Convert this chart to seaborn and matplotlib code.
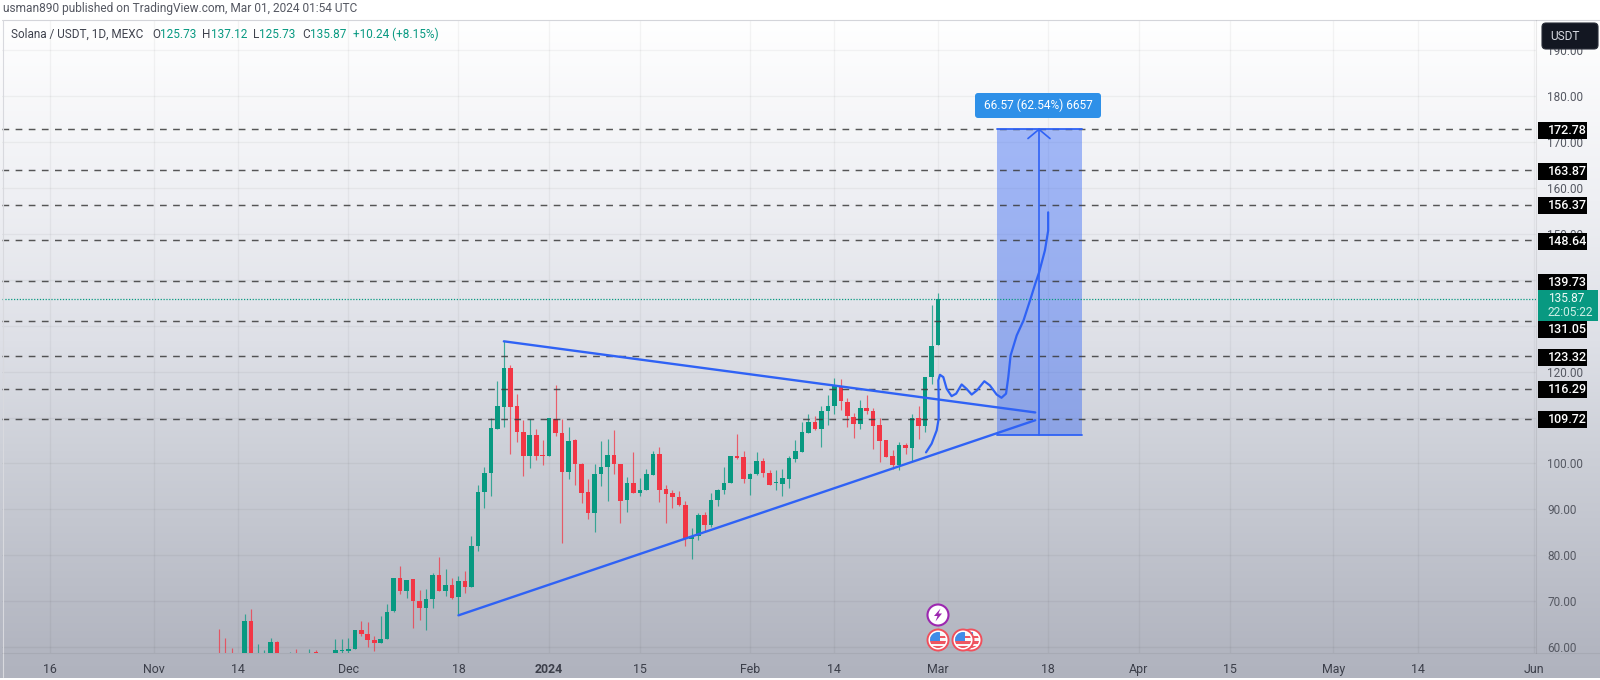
import numpy as np
import pandas as pd
import matplotlib
matplotlib.use("Agg")
import matplotlib.pyplot as plt
import matplotlib.dates as mdates
from matplotlib.patches import Circle, Rectangle, FancyBboxPatch, Polygon
import seaborn as sns

# ---------- data ----------
first_day = "2023-11-11"
opens = [58,57,57,57,57,65.6,56,56,57,61.1,57,57,58,57,58,58.9,57.8,57,58.2,59.2,
 59.1,59.6,63.6,62.9,61.6,60.9,61.8,67.8,75.0,72.2,74.8,70.1,68.5,70.5,75.6,72.3,73.6,70.8,74.4,73.0,82.1,93.7,97.9,107.6,112.2,120.8,112.6,106.8,101.6,106.1,101.9,
 101.6,109.7,106.6,98.2,105.0,99.9,93.7,89.3,97.6,99.3,101.9,99.9,92.1,95.8,93.6,94.1,97.4,102.1,94.4,93.5,92.6,91.0,83.6,84.1,88.7,86.6,92.1,94.1,95.8,101.7,101.3,
 96.7,97.7,100.6,98.0,95.7,95.5,96.7,100.9,102.5,106.7,109.0,107.4,111.5,112.4,116.9,113.4,110.2,108.6,112.1,111.5,108.3,105.0,101.6,99.7,104.05,103.25,109.8,108.1,118.8,
 125.73]
highs = [64.0,61.9,59.8,57.8,67.1,68.3,60.6,59.3,62.0,61.3,58,59.0,59.6,58.6,59.6,59.4,58.2,58.4,61.8,61.7,
 61.95,63.7,65.6,65.4,62.5,66.7,69.4,75.1,77.7,74.7,74.9,72.5,72.7,76.2,79.5,77.0,75.1,75.4,76.5,84.1,95.4,99.3,109.9,117.9,126.6,121.4,115.2,109.5,109.7,107.6,105.0,
 109.8,117.0,109.7,108.0,105.3,100.0,96.6,99.9,104.8,105.3,107.3,99.9,97.0,102.4,96.8,98.7,102.8,103.5,95.4,94.2,93.9,91.8,85.9,89.2,89.5,93.6,94.5,99.3,101.7,106.3,102.6,
 97.9,102.45,101.2,98.6,98.6,98.7,101.7,105.0,109.0,110.8,110.4,112.4,115.0,118.6,118.3,114.3,110.9,113.9,114.8,112.1,110.0,105.0,103.0,104.7,104.4,110.8,112.4,118.8,134.6,
 137.12]
lows = [55,55,55,55.5,56,55,55,55,56,55,56,56,56,56,57,57,56,56.5,57,58.2,
 58.7,59.5,62.3,60.0,59.1,60.9,61.8,67.7,71.6,70.7,64.2,65.8,63.8,68.5,72.2,71.2,70.4,66.9,71.8,73.0,81.0,90.3,92.9,107.6,107.9,102.1,104.7,97.2,99.1,100.8,99.6,
 101.6,105.9,82.6,96.6,95.3,91.4,87.8,85.0,95.0,91.8,97.6,87.0,89.5,93.6,93.0,94.1,97.4,91.5,87.0,90.3,90.8,82.1,79.1,83.3,85.0,86.1,90.7,93.4,95.7,101.0,95.8,
 93.2,97.5,97.0,95.2,94.2,93.0,94.6,100.3,102.5,106.7,107.3,103.5,108.3,110.7,111.7,107.9,105.6,107.5,110.8,103.2,100.2,101.4,98.75,98.5,102.1,100.5,105.4,106.8,117.3,
 125.73]
closes = [56,56,56,56.5,65.6,56,57.5,57,61.1,56,57.5,58,57,58,58.7,58.4,57,58,59.3,59.4,
 59.6,63.6,62.9,61.6,60.9,61.8,67.6,75.0,72.2,74.7,70.1,68.5,70.5,75.6,72.3,73.6,70.7,74.4,73.0,82.1,93.8,98.0,107.8,112.5,120.8,112.2,106.8,101.6,106.1,101.7,101.7,
 109.8,106.6,98.2,104.8,99.8,93.6,89.1,97.7,99.3,101.9,99.8,91.8,95.8,93.6,94.3,97.6,102.1,94.1,93.4,92.6,90.9,83.6,84.1,88.8,86.6,92.1,94.3,95.8,101.7,101.1,96.7,
 97.7,100.6,98.0,95.3,95.8,96.9,101.1,102.6,106.8,109.0,107.4,111.5,112.5,117.0,113.5,110.3,108.6,112.1,111.4,108.1,104.8,101.5,99.7,104.0,103.25,109.8,108.1,118.8,125.6,
 135.87]

levels = [172.78, 163.87, 156.37, 148.64, 139.73, 131.05, 123.32, 116.29, 109.72]
last_price = 135.87
price_ticks = [60, 70, 80, 90, 100, 110, 120, 130, 140, 150, 160, 170, 180, 190]
hidden_price_labels = [110, 130, 140]
date_ticks = ["2023-10-16", "2023-11-01", "2023-11-14", "2023-12-01", "2023-12-18", "2024-01-01",
              "2024-01-15", "2024-02-01", "2024-02-14", "2024-03-01", "2024-03-18", "2024-04-01",
              "2024-04-15", "2024-05-01", "2024-05-14", "2024-06-01"]
date_labels = ["16", "Nov", "14", "Dec", "18", "2024", "15", "Feb", "14", "Mar", "18", "Apr",
               "15", "May", "14", "Jun"]

upper_dates = ["2023-12-25", "2024-03-16"]
upper_prices = [126.6, 111.1]
lower_dates = ["2023-12-18", "2024-03-16"]
lower_prices = [66.9, 109.4]

measure_dates = ["2024-03-10 02:00", "2024-03-23 05:00"]
measure_mid = "2024-03-16 14:00"
measure_prices = [106.21, 172.78]
measure_label = "66.57 (62.54%) 6657"

brush_days = [-1.85,-0.98,-0.2,0.1,0.1,0.05,0.3,0.82,1.34,2.1,2.8,3.65,4.4,5.2,6.0,7.15,8.0,9.05,9.8,10.5,
              10.85,11.2,12.15,13.2,14.2,15.0,15.6,16.5,17.0,17.0]
brush_prices = [102.4,104.3,107.2,109.7,114.4,118.1,119.3,118.8,116.25,114.65,115.2,117.2,116.25,115.0,115.9,
                117.9,117.0,115.0,114.3,115.2,118.8,123.5,127.9,131.15,135.5,139.1,141.6,146.4,150.7,154.7]

header = "usman890 published on TradingView.com, Mar 01, 2024 01:54 UTC"
symbol = "Solana / USDT, 1D, MEXC"

# ---------- style ----------
GREEN = "#089981"
RED = "#F23645"
BLUE = "#2F62F5"
sns.set_theme(style="white")
plt.rcParams["font.family"] = ["Roboto", "DejaVu Sans"]

W, H = 1600, 680
fig = plt.figure(figsize=(W / 100, H / 100), dpi=100, facecolor="white")

# backdrop gradient
bg = fig.add_axes([0, 0, 1, 1], zorder=-1)
ys = np.arange(H)
stops_y = [0, 19, 20, 200, 340, 450, 653, 677, 678, 680]
stops_r = [255, 255, 255, 238, 222, 205, 178, 176, 255, 255]
stops_g = [255, 255, 255, 239, 224, 208, 181, 179, 255, 255]
stops_b = [255, 255, 255, 243, 231, 216, 192, 190, 255, 255]
grad = np.stack([np.interp(ys, stops_y, s) for s in (stops_r, stops_g, stops_b)], axis=1)[:, None, :] / 255
bg.imshow(grad, aspect="auto", extent=(0, W, H, 0))
bg.axis("off")

# main pane
L, R, T, B = 2, 1536, 20, 653
ax = fig.add_axes([L / W, 1 - B / H, (R - L) / W, (B - T) / H], zorder=1)
ax.set_facecolor("none")

df = pd.DataFrame({"date": pd.date_range(first_day, periods=len(opens), freq="D"),
                   "open": opens, "high": highs, "low": lows, "close": closes})
df["x"] = mdates.date2num(df["date"])
df["up"] = df["close"] >= df["open"]
df["color"] = np.where(df["up"], GREEN, RED)

anchor = mdates.date2num(pd.Timestamp("2024-03-01"))
px_per_day = 6.48
ax.set_xlim(anchor + (L - 938) / px_per_day, anchor + (R - 938) / px_per_day)
px_per_unit = 4.59
ax.set_ylim(60 + (647 - B) / px_per_unit, 60 + (647 - T) / px_per_unit)

# grid
grid_x = mdates.date2num(pd.to_datetime(date_ticks))
ax.set_xticks(grid_x, date_labels)
ax.yaxis.tick_right()
ax.set_yticks(price_ticks, ["" if v in hidden_price_labels else f"{v:.2f}" for v in price_ticks])
ax.grid(True, color="#000000", alpha=0.045, lw=1.0)
ax.set_axisbelow(True)
ax.tick_params(axis="x", length=0, pad=7, labelsize=8.9, labelcolor="#3c3f4a")
ax.tick_params(axis="y", length=0, pad=8, labelsize=8.5, labelcolor="#555862")
for lab, txt in zip(ax.get_xticklabels(), date_labels):
    if txt == "2024":
        lab.set_fontweight("bold")
sns.despine(ax=ax, left=True, bottom=True, top=True, right=True)

# measure box
mx = mdates.date2num(pd.to_datetime(measure_dates))
mmid = mdates.date2num(pd.Timestamp(measure_mid))
ax.fill_between(mx, measure_prices[0], measure_prices[1], color="#2F62F5", alpha=0.42, lw=0, zorder=2)

# candles
ax.vlines(df["x"], df["low"], df["high"], colors=df["color"], lw=0.85, alpha=0.75, zorder=3)
ax.bar(df["x"], (df["close"] - df["open"]).abs().clip(lower=0.15), bottom=df[["open", "close"]].min(axis=1),
       width=0.7, color=df["color"], lw=0, zorder=3.1)

# horizontal levels and last price
ax.hlines(levels, ax.get_xlim()[0], ax.get_xlim()[1], colors="#3a3a3a", lw=1.05,
          linestyles=(0, (4.6, 4.4)), zorder=4, alpha=0.85)
ax.axhline(last_price, color=GREEN, lw=0.9, ls=(0, (1, 1.3)), alpha=1.0, zorder=4)

# triangle, measure edges, arrow, brush via seaborn
def draw(xs, ys, lw, z):
    sns.lineplot(x=xs, y=ys, ax=ax, sort=False, estimator=None, color=BLUE, lw=lw, zorder=z, legend=False,
                 solid_capstyle="round", solid_joinstyle="round")

draw(mdates.date2num(pd.to_datetime(upper_dates)), upper_prices, 1.7, 5)
draw(mdates.date2num(pd.to_datetime(lower_dates)), lower_prices, 1.7, 5)
draw(mx, [measure_prices[0]] * 2, 1.3, 5)
draw(mx, [measure_prices[1]] * 2, 1.3, 5)
draw([mmid, mmid], measure_prices, 1.2, 5)
draw([mmid - 1.7, mmid, mmid + 1.7], [measure_prices[1] - 2.0, measure_prices[1], measure_prices[1] - 2.0], 1.2, 5)
draw(anchor + np.array(brush_days), brush_prices, 1.6, 6)
ax.set_xlabel("")
ax.set_ylabel("")

# overlay in pixel space
ov = fig.add_axes([0, 0, 1, 1], zorder=10)
ov.set_xlim(0, W)
ov.set_ylim(H, 0)
ov.axis("off")
ov.patch.set_alpha(0)

# frame
ov.plot([2, 1600], [19.5, 19.5], color="#d4d5da", lw=0.8)
ov.plot([2.5, 2.5], [19.5, 677], color="#d8d9de", lw=0.8)
ov.plot([1536, 1536], [19.5, 653], color="#000000", alpha=0.08, lw=0.8)
ov.plot([2, 1600], [653, 653], color="#000000", alpha=0.06, lw=0.8)

# header
ov.text(3, 8.5, header, fontsize=8.6, color="#555862", va="center", ha="left")
ov.text(11, 34, symbol, fontsize=8.5, color="#3f424d", va="center", ha="left")
for x, letter, val in [(152, "O", "125.73"), (202, "H", "137.12"), (253, "L", "125.73"), (302, "C", "135.87")]:
    ov.text(x, 34, letter, fontsize=8.5, color="#3f424d", va="center", ha="left")
    lx = {"O": 160, "H": 211, "L": 259, "C": 310}[letter]
    ov.text(lx, 34, val, fontsize=8.5, color=GREEN, va="center", ha="left")
ov.text(353, 34, "+10.24 (+8.15%)", fontsize=8.5, color=GREEN, va="center", ha="left")

# USDT button
ov.add_patch(FancyBboxPatch((1544, 25), 52, 22, boxstyle="round,pad=2,rounding_size=4", fc="#131722", ec="#2a2e39", lw=0.8))
ov.text(1565, 36.5, "USDT", color="#d8dae2", fontsize=8.6, ha="center", va="center")

# right level labels
to_px = lambda p: B - (p - ax.get_ylim()[0]) / (ax.get_ylim()[1] - ax.get_ylim()[0]) * (B - T)
shift = {131.05: 9.0}
for lv in levels:
    yy = to_px(lv) + shift.get(lv, 1.0)
    ov.add_patch(Rectangle((1538, yy - 8.5), 48.7, 17, fc="#000000", ec="none", zorder=3))
    ov.text(1547.5, yy, f"{lv:.2f}", color="white", fontsize=9.0, ha="left", va="center", fontweight="medium", zorder=4)
ylast = to_px(last_price)
ov.add_patch(Rectangle((1538, ylast - 8.7), 60, 31, fc=GREEN, ec="none", zorder=5))
ov.text(1548, ylast, f"{last_price:.2f}", color="#f0fbf8", fontsize=8.6, ha="left", va="center", zorder=6)
ov.text(1547, ylast + 14, "22:05:22", color="#cdeee6", fontsize=8.6, ha="left", va="center", zorder=6)

# measure tag
ov.add_patch(FancyBboxPatch((977, 95), 122, 21, boxstyle="round,pad=2,rounding_size=3", fc="#2E90E8", ec="none", zorder=6))
ov.text(1038, 105.5, measure_label, color="white", fontsize=8.6, ha="center", va="center", zorder=7)

# event icons
def flag(cx, cy, r=10.5, z=8):
    ov.add_patch(Circle((cx, cy), r, fc="white", ec="#F0505C", lw=1.4, zorder=z))
    clip = Circle((cx, cy), r - 2.5, transform=ov.transData)
    parts = [Rectangle((cx - r, cy - r), 2 * r, 2 * r, fc="#F7F7F7", ec="none", zorder=z + .1),
             Rectangle((cx - r, cy + 1), 2 * r, 2.6, fc="#EE5560", ec="none", zorder=z + .2),
             Rectangle((cx - r, cy + 5.5), 2 * r, 2.6, fc="#EE5560", ec="none", zorder=z + .2),
             Rectangle((cx - r, cy - 4), 2 * r, 2.4, fc="#EE5560", ec="none", zorder=z + .2),
             Rectangle((cx - r, cy - r), r + 1.5, r + 0.5, fc="#3F8BE8", ec="none", zorder=z + .3)]
    for p in parts:
        ov.add_patch(p)
        p.set_clip_path(clip)

ov.add_patch(Circle((938, 615), 10.5, fc="white", ec="#9C27B0", lw=1.5, zorder=8))
ov.add_patch(Polygon([(940.5, 608.5), (934, 616), (937.5, 616), (935.5, 621.5), (942, 613.5), (938.5, 613.5)],
                     fc="#9C27B0", ec="none", zorder=9))
flag(938, 640)
flag(971, 640, z=8)
flag(963, 640, z=9)

fig.savefig("out.png", dpi=100)
